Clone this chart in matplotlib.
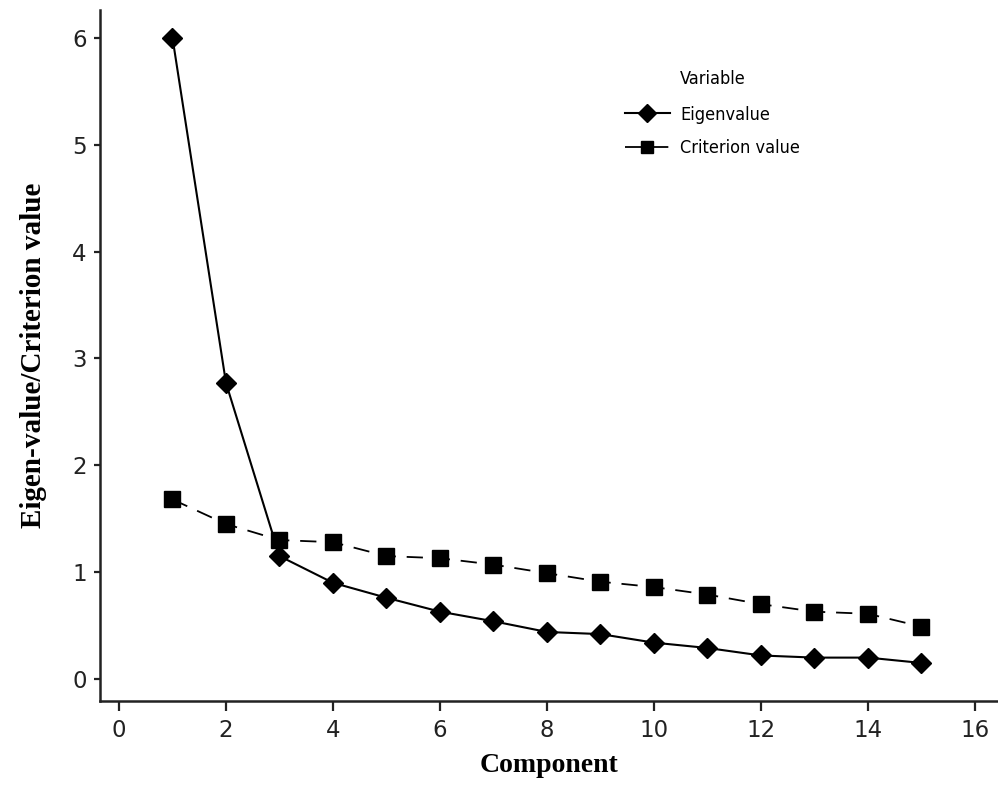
import matplotlib
matplotlib.use("Agg")
import matplotlib.pyplot as plt

# scree plot data
components = [1, 2, 3, 4, 5, 6, 7, 8, 9, 10, 11, 12, 13, 14, 15]
eigenvalue = [6.00, 2.77, 1.15, 0.90, 0.76, 0.63, 0.54, 0.44, 0.42, 0.34, 0.29, 0.22, 0.20, 0.20, 0.15]
criterion = [1.68, 1.45, 1.30, 1.28, 1.15, 1.13, 1.07, 0.99, 0.91, 0.86, 0.79, 0.70, 0.63, 0.61, 0.49]
xticks = [0, 2, 4, 6, 8, 10, 12, 14, 16]
yticks = [0, 1, 2, 3, 4, 5, 6]

fig = plt.figure(figsize=(9.98, 7.87), dpi=100)
ax = fig.add_axes([100 / 998, 86 / 787, 898 / 998, 691 / 787])

ax.plot(components, eigenvalue, color='black', lw=1.5, marker='D', ms=10,
        label='Eigenvalue')
ax.plot(components, criterion, color='black', lw=1.3, marker='s', ms=11,
        dashes=(9, 6), label='Criterion value')

ax.set_xlim(-0.355, 16.43)
ax.set_ylim(-0.206, 6.26)
ax.set_xticks(xticks)
ax.set_yticks(yticks)

for side in ['top', 'right']:
    ax.spines[side].set_visible(False)
for side in ['left', 'bottom']:
    ax.spines[side].set_linewidth(1.8)
    ax.spines[side].set_color('#222222')

ax.tick_params(axis='x', direction='out', length=7, width=1.6, pad=6,
               labelsize=16.5, colors='#222222')
ax.tick_params(axis='y', direction='out', length=4.5, width=1.6, pad=5,
               labelsize=16.5, colors='#222222')

ax.set_xlabel('Component', family='Liberation Serif', fontweight='bold',
              fontsize=20, labelpad=8)
ax.set_ylabel('Eigen-value/Criterion value', family='Liberation Serif',
              fontweight='bold', fontsize=21, labelpad=18)

leg = ax.legend(loc='upper left', bbox_to_anchor=(0.566, 0.885), frameon=False,
                handlelength=2.5, handletextpad=0.6, labelspacing=0.85,
                borderpad=0.4,
                prop={'family': 'DejaVu Sans', 'stretch': 'condensed', 'size': 13})
for h in leg.legend_handles:
    h.set_markersize(9)

fig.text(680 / 998, 1 - 79 / 787, 'Variable', family='DejaVu Sans',
         stretch='condensed', fontsize=13, va='center', ha='left')

fig.savefig('out.png', dpi=100)
